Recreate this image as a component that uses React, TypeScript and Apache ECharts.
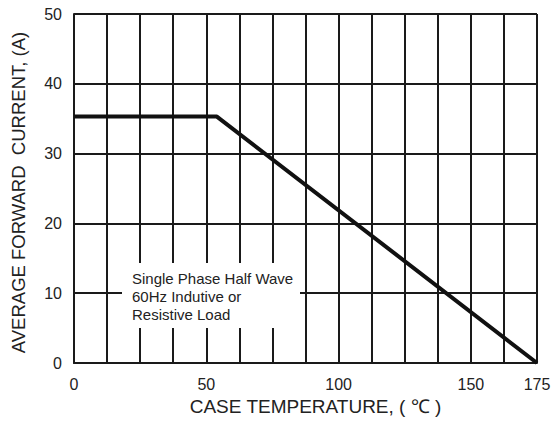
import React, { useEffect, useRef } from "react";
import * as echarts from "echarts";

const xTicks = [0, 50, 100, 150, 175];
const yTicks = [0, 10, 20, 30, 40, 50];
const curveX = [0, 54, 175];
const curveY = [35.3, 35.3, 0];
const noteLines = ["Single Phase Half Wave", "60Hz Indutive or", "Resistive Load"];
const xTitle = "CASE TEMPERATURE, ( \u2103 )";
const yTitle = "AVERAGE FORWARD  CURRENT, (A)";
// grid-line fragment redrawn beside the note box (x from, x to, y)
const gridStub = [74, 87.5, 10];

const FONT = "'Liberation Sans', Arial, sans-serif";

export default function App() {
  const ref = useRef<HTMLDivElement>(null);
  useEffect(() => {
    if (!ref.current) return;
    const chart = echarts.init(ref.current, undefined, { renderer: "svg" });
    chart.setOption({
      animation: false,
      backgroundColor: "#fff",
      grid: { left: 74, right: 22, top: 14, bottom: 60 },
      xAxis: {
        type: "value",
        min: 0,
        max: 175,
        interval: 12.5,
        name: xTitle,
        nameLocation: "middle",
        nameGap: 27,
        nameTextStyle: { fontFamily: FONT, fontSize: 19, color: "#222", padding: [0, 0, 0, 20] },
        axisLine: { show: true, lineStyle: { color: "#1a1a1a", width: 2 } },
        axisTick: { show: false },
        splitLine: { show: true, lineStyle: { color: "#1a1a1a", width: 2 } },
        axisLabel: {
          fontFamily: FONT,
          fontSize: 16,
          color: "#222",
          margin: 13,
          formatter: (v: number) => (xTicks.includes(v) ? String(v) : ""),
        },
      },
      yAxis: {
        type: "value",
        min: 0,
        max: 50,
        interval: 10,
        name: yTitle,
        nameLocation: "middle",
        nameGap: 46,
        nameTextStyle: { fontFamily: FONT, fontSize: 18.5, color: "#222", padding: [0, 8, 0, 0] },
        axisLine: { show: true, lineStyle: { color: "#1a1a1a", width: 2 } },
        axisTick: { show: false },
        splitLine: { show: true, lineStyle: { color: "#1a1a1a", width: 2 } },
        axisLabel: {
          fontFamily: FONT,
          fontSize: 16,
          color: "#222",
          margin: 12,
          formatter: (v: number) => (yTicks.includes(v) ? String(v) : ""),
        },
      },
      series: [
        {
          type: "line",
          data: curveX.map((x, i) => [x, curveY[i]]),
          symbol: "none",
          lineStyle: { color: "#111", width: 4 },
          z: 12,
          markLine: {
            silent: true,
            symbol: "none",
            label: { show: false },
            lineStyle: { color: "#1a1a1a", width: 2, type: "solid" },
            data: [[{ coord: [gridStub[0], gridStub[2]] }, { coord: [gridStub[1], gridStub[2]] }]],
          },
        },
      ],
      graphic: [
        {
          type: "rect",
          shape: { x: 122, y: 263, width: 178, height: 65 },
          style: { fill: "#fff" },
          z: 10,
        },
        ...noteLines.map((t, i) => ({
          type: "text",
          x: 132,
          y: 271 + i * 18,
          style: { text: t, font: `15px ${FONT}`, fill: "#222" },
          z: 11,
        })),
      ],
    });
    return () => chart.dispose();
  }, []);
  return <div ref={ref} style={{ width: 559, height: 423, position: "absolute", left: 0, top: 0 }} />;
}
